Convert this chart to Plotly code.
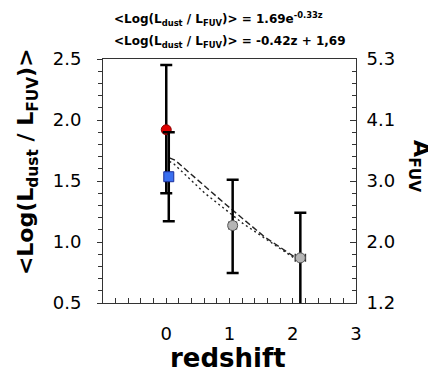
import plotly.graph_objects as go

# points
z_red = [0.0]
y_red = [1.92]
red_hi = [0.53]
red_lo = [0.52]

z_blue = [0.04]
y_blue = [1.535]
blue_hi = [0.365]
blue_lo = [0.365]

z_gray = [1.05, 2.12]
y_gray = [1.135, 0.87]
gray_hi = [0.375, 0.37]
gray_lo = [0.39, 0.39]
gray_xerr = [0.06, 0.08]

# fit lines as drawn
z_lin = [0.05, 0.14, 0.92, 1.55, 2.02]
y_lin = [1.69, 1.67, 1.317, 1.044, 0.88]
z_exp = [0.05, 0.11, 0.61, 1.21, 1.76, 2.02]
y_exp = [1.66, 1.645, 1.40, 1.153, 0.96, 0.87]

left_ticks = [0.5, 1.0, 1.5, 2.0, 2.5]
left_text = ["0.5", "1.0", "1.5", "2.0", "2.5"]
right_text = ["1.2", "2.0", "3.0", "4.1", "5.3"]
x_ticks = [0, 1, 2, 3]

FONT = "DejaVu Sans"

fig = go.Figure()

fig.add_trace(go.Scatter(x=z_lin, y=y_lin, mode="lines",
                         line=dict(color="#222", width=1.4, dash="6px,3px")))
fig.add_trace(go.Scatter(x=z_exp, y=y_exp, mode="lines",
                         line=dict(color="#222", width=1.4, dash="2px,3px")))

fig.add_trace(go.Scatter(x=z_red, y=y_red, mode="markers",
                         error_y=dict(type="data", array=red_hi, arrayminus=red_lo,
                                      color="black", thickness=2.5, width=6),
                         marker=dict(color="#e00000", size=10, line=dict(color="#8a0000", width=1))))
fig.add_trace(go.Scatter(x=z_blue, y=y_blue, mode="markers",
                         error_y=dict(type="data", array=blue_hi, arrayminus=blue_lo,
                                      color="black", thickness=2.5, width=6),
                         marker=dict(color="#3a6ff0", size=10, symbol="square",
                                     line=dict(color="#1a2f9a", width=1))))
fig.add_trace(go.Scatter(x=z_gray, y=y_gray, mode="markers",
                         error_y=dict(type="data", array=gray_hi, arrayminus=gray_lo,
                                      color="black", thickness=2.5, width=6),
                         error_x=dict(type="data", array=gray_xerr,
                                      color="#333", thickness=1.5, width=4),
                         marker=dict(color="#b5b5b5", size=10, line=dict(color="#555", width=1))))

# invisible trace so the right axis is drawn
fig.add_trace(go.Scatter(x=[0], y=[1], yaxis="y2", mode="markers",
                         marker=dict(opacity=0), hoverinfo="skip"))

# page body has an 8px margin, so the figure is a bit smaller
fig.update_layout(
    width=428, height=372,
    margin=dict(l=95, r=80, t=51, b=77),
    plot_bgcolor="white", paper_bgcolor="white",
    showlegend=False,
    font=dict(family=FONT, color="black"),
    xaxis=dict(range=[-1, 3], tickvals=x_ticks, ticks="inside", ticklen=5,
               tickcolor="#333", showline=True, linecolor="#333", linewidth=1,
               mirror=True, showgrid=False, zeroline=False, automargin=False,
               tickfont=dict(size=18), ticklabelstandoff=14,
               minor=dict(dtick=0.2, tick0=0, ticks="inside", ticklen=5, tickcolor="#333")),
    yaxis=dict(range=[0.5, 2.5], tickvals=left_ticks, ticktext=left_text,
               ticks="outside", ticklen=5, tickcolor="#333",
               showline=True, linecolor="#333", linewidth=1,
               showgrid=False, zeroline=False, automargin=False,
               tickfont=dict(size=18), ticklabelstandoff=12,
               minor=dict(dtick=0.1, tick0=0.5, ticks="outside", ticklen=4, tickcolor="#333")),
    yaxis2=dict(range=[0.5, 2.5], overlaying="y", side="right", anchor="x",
                tickvals=left_ticks, ticktext=right_text,
                ticks="inside", ticklen=6, tickcolor="#333",
                showline=True, linecolor="#333", linewidth=1,
                showgrid=False, zeroline=False, automargin=False,
                tickfont=dict(size=18), ticklabelstandoff=6,
                minor=dict(dtick=0.1, tick0=0.5, ticks="inside", ticklen=4, tickcolor="#333")),
)

fig.add_annotation(text="<b>&lt;Log(L<sub>dust</sub> / L<sub>FUV</sub>)&gt;</b>",
                   xref="paper", yref="paper", x=-0.296, y=0.578, textangle=-90,
                   showarrow=False, font=dict(size=22), xanchor="center", yanchor="middle")
fig.add_annotation(text="<b>A<sub>FUV</sub></b>",
                   xref="paper", yref="paper", x=1.25, y=0.56, textangle=90,
                   showarrow=False, font=dict(size=22), xanchor="center", yanchor="middle")
fig.add_annotation(text="<b>redshift</b>",
                   xref="paper", yref="paper", x=0.494, y=-0.225,
                   showarrow=False, font=dict(size=26), xanchor="center", yanchor="middle")
fig.add_annotation(text="<b>&lt;Log(L<sub>dust</sub> / L<sub>FUV</sub>)&gt; = 1.69e<sup>-0.33z</sup></b>",
                   xref="paper", yref="paper", x=0.036, y=1.165,
                   showarrow=False, font=dict(size=12), xanchor="left", yanchor="middle")
fig.add_annotation(text="<b>&lt;Log(L<sub>dust</sub> / L<sub>FUV</sub>)&gt; = -0.42z + 1,69</b>",
                   xref="paper", yref="paper", x=0.036, y=1.07,
                   showarrow=False, font=dict(size=12), xanchor="left", yanchor="middle")

fig.write_html("out.html")
